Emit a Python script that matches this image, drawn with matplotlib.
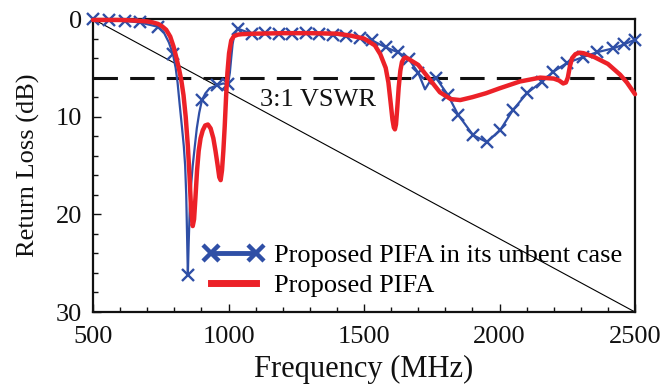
import numpy as np
import matplotlib
matplotlib.use("Agg")
import matplotlib.pyplot as plt
from matplotlib.lines import Line2D

# Schrift wie im Paper (Times-ähnlich)
plt.rcParams["font.family"] = ["Liberation Serif", "DejaVu Serif"]

# Rückflussdämpfung der ungebogenen Variante (blau, mit Markern)
blue_f = [500, 560, 618, 673, 740, 760, 780, 795, 805, 812, 820, 828, 835, 840, 844, 847,
          850, 853, 857, 862, 868, 875, 883, 892, 902, 915, 930, 957, 980, 998, 1005,
          1010, 1015, 1020, 1027, 1035, 1085, 1135, 1185, 1235, 1285, 1335, 1385, 1435,
          1485, 1530, 1580, 1625, 1665, 1700, 1725, 1745, 1765, 1810, 1847, 1903, 1953,
          2002, 2050, 2101, 2157, 2198, 2249, 2308, 2360, 2420, 2460, 2500]
blue_db = [0.0, 0.1, 0.2, 0.35, 0.8, 1.3, 2.4, 3.6, 5.0, 6.5, 8.8, 11.0, 13.0, 15.0, 18.0, 22.0,
           26.2, 23.0, 19.5, 17.0, 15.0, 13.2, 11.2, 9.6, 8.3, 7.6, 7.1, 6.8, 6.6, 6.7, 5.5,
           4.0, 2.6, 1.8, 1.3, 1.0, 1.5, 1.45, 1.5, 1.5, 1.45, 1.5, 1.6, 1.7,
           1.9, 2.2, 2.9, 3.4, 4.1, 5.5, 7.2, 6.3, 6.0, 7.8, 9.8, 11.9, 12.6,
           11.4, 9.3, 7.6, 6.4, 5.4, 4.5, 3.9, 3.4, 3.0, 2.6, 2.1]
# Frequenzen, an denen ein Marker sitzt
blue_marker_f = [500, 560, 618, 673, 740, 795, 850, 902, 957, 998, 1035, 1085, 1135, 1185,
                 1235, 1285, 1335, 1385, 1435, 1485, 1530, 1580, 1625, 1665, 1700, 1765,
                 1810, 1847, 1903, 1953, 2002, 2050, 2101, 2157, 2198, 2249, 2308, 2360,
                 2420, 2460, 2500]

# Rückflussdämpfung der gebogenen PIFA (rot)
red_f = [500, 550, 600, 650, 700, 720, 740, 755, 770, 785, 797, 808, 818, 826, 834, 842,
         850, 856, 862, 868, 873, 878, 884, 890, 897, 905, 914, 924, 934, 944, 952, 960,
         966, 971, 976, 981, 986, 991, 996, 1002, 1010, 1020, 1035, 1050, 1100, 1200,
         1300, 1400, 1450, 1500, 1540, 1560, 1580, 1590, 1598, 1605, 1610, 1614, 1618,
         1623, 1628, 1634, 1640, 1648, 1655, 1665, 1700, 1740, 1780, 1820, 1855, 1900,
         1950, 2000, 2075, 2150, 2200, 2220, 2235, 2245, 2252, 2260, 2268, 2280, 2295,
         2310, 2350, 2400, 2445, 2470, 2500]
red_db = [0.1, 0.1, 0.1, 0.15, 0.25, 0.35, 0.5, 0.75, 1.1, 1.8, 2.8, 4.0, 5.2, 6.3, 7.8, 10.0,
          13.0, 16.0, 19.5, 21.2, 20.5, 18.3, 15.5, 13.5, 12.2, 11.4, 10.9, 10.8, 11.2, 12.2,
          13.5, 15.0, 16.2, 16.5, 15.5, 13.5, 11.0, 8.0, 5.5, 3.5, 2.2, 1.75, 1.6, 1.55,
          1.5, 1.45, 1.45, 1.5, 1.7, 2.0, 2.7, 3.6, 5.0, 6.5, 8.5, 10.3, 11.1, 11.3, 10.8,
          9.0, 7.0, 5.3, 4.4, 4.0, 3.95, 4.1, 4.7, 6.1, 7.5, 8.2, 8.3, 8.0, 7.6, 7.1, 6.4,
          6.0, 6.1, 6.3, 6.6, 6.5, 6.0, 4.8, 4.0, 3.6, 3.45, 3.5, 3.9, 4.6, 5.7, 6.5, 7.7]

vswr_db = 6  # 3:1 VSWR Grenze

blue_col = "#2f4fa6"
red_col = "#ec2128"

fig = plt.figure(figsize=(6.7, 3.91), dpi=100)
ax = fig.add_axes([0.1388, 0.202, 0.809, 0.7494])

# dünne Diagonale von (500, 0) nach (2500, 30)
ax.plot([500, 2500], [0, 30], color="black", lw=0.8, zorder=1)

# 3:1 VSWR Linie
ax.axhline(vswr_db, color="#111111", lw=2.2, dashes=(8, 4), zorder=2)
ax.text(1116, 8.3, "3:1 VSWR", fontsize=19, ha="left", va="center", color="#111111")

mark_idx = [i for i, f in enumerate(blue_f) if f in blue_marker_f]
ax.plot(blue_f, blue_db, color=blue_col, lw=1.6, marker="x", markevery=mark_idx,
        markersize=9, markeredgewidth=1.7, clip_on=False, zorder=3)
ax.plot(red_f, red_db, color=red_col, lw=3.2, clip_on=False, zorder=4,
        solid_capstyle="round", solid_joinstyle="round")

ax.set_xlim(500, 2500)
ax.set_ylim(30, 0)
ax.set_xticks([500, 1000, 1500, 2000, 2500])
ax.set_xticks(np.arange(500, 2501, 100), minor=True)
ax.set_yticks([0, 10, 20, 30])
ax.set_yticks(np.arange(0, 31, 2), minor=True)
ax.tick_params(which="both", direction="in", top=False, right=False, labelsize=19,
               colors="#111111", width=1.0)
ax.tick_params(which="major", length=6)
ax.tick_params(which="minor", length=3.5)
ax.tick_params(axis="x", which="major", pad=10)
ax.tick_params(axis="y", which="major", pad=8)
for sp in ax.spines.values():
    sp.set_linewidth(1.6)
    sp.set_color("#111111")

ax.set_xlabel("Frequency (MHz)", fontsize=22, labelpad=5, color="#111111")
ax.set_ylabel("Return Loss (dB)", fontsize=19, labelpad=11, color="#111111")

# Legende mit dickeren Symbolen
h_blue = Line2D([], [], color=blue_col, lw=3.5, marker="x", markersize=12,
                markeredgewidth=3.2)
h_red = Line2D([], [], color=red_col, lw=5)
ax.legend([h_blue, h_red], ["Proposed PIFA in its unbent case", "Proposed PIFA"],
          loc="center left", bbox_to_anchor=(0.203, 0.142), frameon=False,
          fontsize=19, numpoints=2, handlelength=2.3, handletextpad=0.4,
          borderpad=0, borderaxespad=0, labelspacing=0.25)

plt.savefig("out.png", dpi=100)
